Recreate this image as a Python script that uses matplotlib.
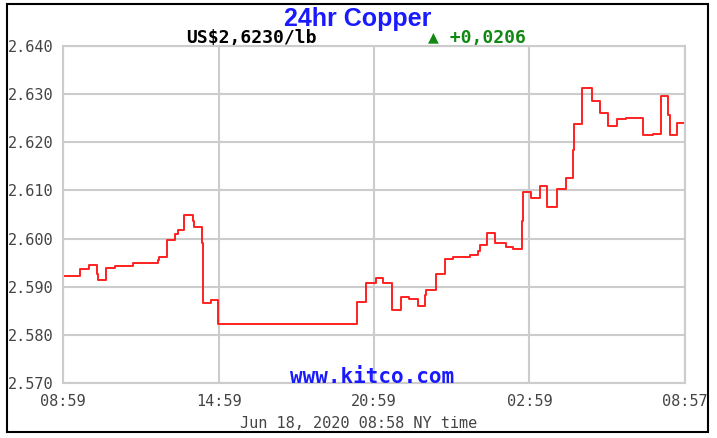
import matplotlib
matplotlib.use('Agg')
import matplotlib.pyplot as plt
from matplotlib.patches import Rectangle

# hours since 08:59 and copper price (US$/lb), step changes
hours = [0.00, 0.66, 1.01, 1.31, 1.36, 1.66, 2.01, 2.69, 3.68, 3.72,
         4.00, 4.32, 4.45, 4.67, 5.00, 5.04, 5.35, 5.39, 5.70, 5.99,
         11.35, 11.69, 12.06, 12.36, 12.68, 13.03, 13.36, 13.71, 13.97, 14.02,
         14.39, 14.74, 15.06, 15.70, 16.02, 16.09, 16.35, 16.67, 17.09, 17.37,
         17.70, 17.74, 18.04, 18.40, 18.68, 19.05, 19.41, 19.69, 19.73, 20.03,
         20.40, 20.72, 21.04, 21.36, 21.72, 22.39, 22.75, 23.06, 23.35, 23.42,
         23.71, 24.00]
price = [2.5922, 2.5936, 2.5945, 2.5926, 2.5913, 2.5938, 2.5943, 2.5950, 2.5955, 2.5962,
         2.5997, 2.6009, 2.6017, 2.6049, 2.6036, 2.6023, 2.5990, 2.5866, 2.5872, 2.5822,
         2.5868, 2.5907, 2.5919, 2.5907, 2.5851, 2.5878, 2.5875, 2.5860, 2.5882, 2.5894,
         2.5926, 2.5958, 2.5962, 2.5965, 2.5974, 2.5986, 2.6012, 2.5990, 2.5983, 2.5978,
         2.6036, 2.6097, 2.6085, 2.6109, 2.6066, 2.6102, 2.6125, 2.6184, 2.6238, 2.6313,
         2.6286, 2.6261, 2.6234, 2.6248, 2.6251, 2.6215, 2.6218, 2.6297, 2.6257, 2.6215,
         2.6241, 2.6241]

x_ticks = [0, 6, 12, 18, 24]
x_labels = ['08:59', '14:59', '20:59', '02:59', '08:57']
y_ticks = [2.570, 2.580, 2.590, 2.600, 2.610, 2.620, 2.630, 2.640]

W, H = 717, 438
fig = plt.figure(figsize=(W/100, H/100), dpi=100)
ax = fig.add_axes([63/W, (H-383)/H, (685-63)/W, (383-46)/H])

ax.step(hours, price, where='post', color='#ff2020', lw=1.4)
ax.set_xlim(0, 24)
ax.set_ylim(2.570, 2.640)
ax.set_xticks(x_ticks)
ax.set_xticklabels(x_labels)
ax.set_yticks(y_ticks)
ax.set_yticklabels(['%.3f' % v for v in y_ticks])
ax.grid(True, color='#cccccc', lw=1.5)
ax.set_axisbelow(True)
for s in ax.spines.values():
    s.set_color('#cccccc')
    s.set_linewidth(1.5)
ax.tick_params(length=0, labelsize=11, colors='#444444')
ax.tick_params(axis='x', pad=8)
ax.tick_params(axis='y', pad=40)
for lab in ax.get_xticklabels() + ax.get_yticklabels():
    lab.set_family('DejaVu Sans Mono')
for lab in ax.get_yticklabels():
    lab.set_horizontalalignment('left')

fig.text(358/W, 1 - 19/H, '24hr Copper', color='#1a1aff', fontsize=18,
         fontweight='bold', family='Liberation Sans', ha='center', va='center')
fig.text(186/W, 1 - 38/H, 'US$2,6230/lb', color='black', fontsize=13,
         fontweight='bold', family='DejaVu Sans Mono', ha='left', va='center')
fig.text(428/W, 1 - 38/H, '\u25b2 +0,0206', color='#118811', fontsize=13,
         fontweight='bold', family='DejaVu Sans Mono', ha='left', va='center')
fig.text(372/W, 1 - 377/H, 'www.kitco.com', color='#1a1aff', fontsize=15,
         fontweight='bold', family='DejaVu Sans Mono', ha='center', va='center')
fig.text(359/W, 1 - 423/H, 'Jun 18, 2020 08:58 NY time', color='#444444',
         fontsize=11, family='DejaVu Sans Mono', ha='center', va='center')

fig.patches.append(Rectangle((7/W, (H-432)/H), (708-7)/W, (432-4)/H,
                             transform=fig.transFigure, fill=False,
                             edgecolor='black', lw=1.5))

fig.savefig('out.png', dpi=100)
